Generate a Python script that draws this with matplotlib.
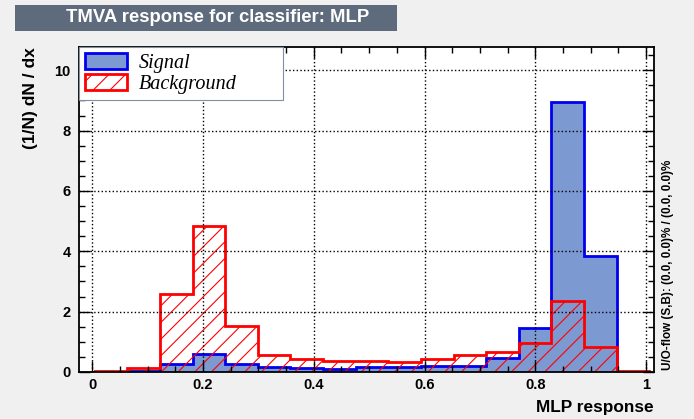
import numpy as np
import matplotlib.pyplot as plt
from matplotlib.patches import Rectangle

# MLP output histograms, normalised (1/N) dN/dx, 17 bins
edges = np.linspace(0.0045, 1.0058, 18)
signal = [0.01, 0.04, 0.27, 0.59, 0.27, 0.15, 0.12, 0.11, 0.16,
          0.15, 0.19, 0.21, 0.46, 1.45, 8.96, 3.85, 0.0]
background = [0.03, 0.13, 2.59, 4.85, 1.54, 0.56, 0.44, 0.38, 0.36,
              0.34, 0.42, 0.57, 0.65, 0.96, 2.36, 0.84, 0.04]

plt.rcParams['font.family'] = ['Liberation Sans', 'DejaVu Sans']
plt.rcParams['hatch.linewidth'] = 0.8

fig = plt.figure(figsize=(6.94, 4.19), dpi=100)
fig.patch.set_facecolor('#f0f0f0')
ax = fig.add_axes([0.1138, 0.1122, 0.8286, 0.7756])

sig = ax.stairs(signal, edges, fill=True, facecolor='#7d99d1',
                edgecolor='#0000ee', linewidth=2, zorder=1)
bkg = ax.stairs(background, edges, fill=True, facecolor='none',
                edgecolor='#ff0000', hatch='//', linewidth=2, zorder=1.5)

ax.set_xlim(-0.024, 1.0145)
ax.set_ylim(0, 10.77)
ax.set_xticks(np.arange(0, 1.01, 0.2))
ax.set_xticklabels(['0', '0.2', '0.4', '0.6', '0.8', '1'])
ax.set_xticks(np.arange(0, 1.01, 0.05), minor=True)
ax.set_yticks(np.arange(0, 11, 2))
ax.set_yticks(np.arange(0, 10.6, 0.5), minor=True)
ax.tick_params(which='both', direction='in', top=True, right=True,
               width=1.0, labelsize=10.5)
ax.tick_params(which='major', length=8)
ax.tick_params(which='minor', length=4)
for lab in ax.get_xticklabels() + ax.get_yticklabels():
    lab.set_fontweight('bold')
ax.tick_params(axis='x', pad=4)
ax.tick_params(axis='y', pad=6)
ax.grid(True, which='major', linestyle=':', color='black', linewidth=1.0)
ax.set_axisbelow(False)
for s in ax.spines.values():
    s.set_linewidth(1.3)

leg = ax.legend([sig, bkg], ['Signal', 'Background'], loc='upper left',
                bbox_to_anchor=(0.0, 0.846, 0.355, 0.154), mode='expand',
                borderaxespad=0, fancybox=False, framealpha=1,
                edgecolor='#8090a0', handlelength=2.1, handleheight=0.85,
                handletextpad=0.55, labelspacing=0.05, borderpad=0.3,
                prop={'family': 'Liberation Serif', 'style': 'italic', 'size': 14.5})
leg.get_frame().set_linewidth(0.8)

ax.set_xlabel('MLP response', fontsize=12.4, fontweight='bold', loc='right', labelpad=6)
ax.set_ylabel('(1/N) dN / dx', fontsize=12.5, fontweight='bold', loc='top', labelpad=12)

fig.text(0.963, 0.117, 'U/O-flow (S,B): (0.0, 0.0)% / (0.0, 0.0)%',
         rotation=90, fontsize=8.4, fontweight='bold', ha='center', va='bottom')

fig.patches.append(Rectangle((15 / 694, 1 - 31 / 419), 382 / 694, 26 / 419,
                             transform=fig.transFigure, facecolor='#5d6b7d',
                             edgecolor='none'))
fig.text(218 / 694, 1 - 18 / 419, 'TMVA response for classifier: MLP',
         color='white', fontsize=13.3, fontweight='bold', ha='center', va='center')

fig.savefig('out.png', dpi=100, facecolor=fig.get_facecolor())
